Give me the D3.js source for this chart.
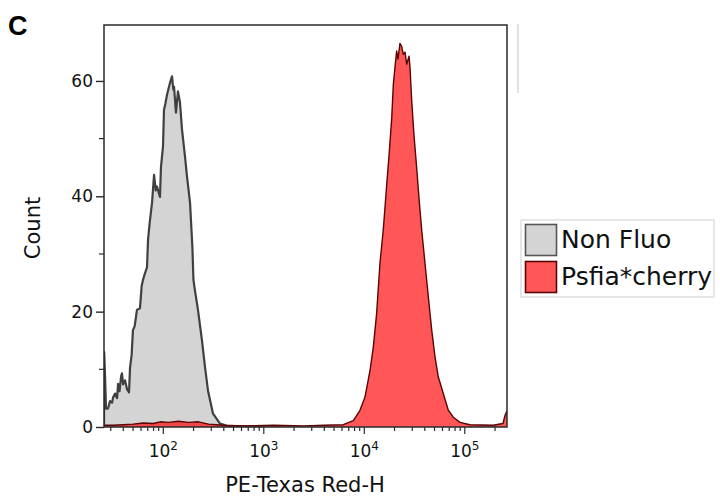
<!DOCTYPE html>
<html>
<head>
<meta charset="utf-8">
<script src="https://cdn.jsdelivr.net/npm/d3@7"></script>
<style>
  body { margin: 0; background: #fff; }
  svg { display: block; font-family: "DejaVu Sans", sans-serif; }
</style>
</head>
<body>
<svg id="chart" width="720" height="498"></svg>
<script>
// histogram outlines: log10(intensity) and event count
var nonFluoLog = [1.410, 1.412, 1.420, 1.430, 1.450, 1.470, 1.490, 1.500, 1.520, 1.540, 1.550, 1.565, 1.580, 1.589, 1.600, 1.619,
    1.640, 1.659, 1.669, 1.685, 1.698, 1.715, 1.738, 1.768, 1.785, 1.798, 1.815, 1.838, 1.848, 1.865, 1.888, 1.908,
    1.925, 1.937, 1.967, 1.977, 1.997, 2.007, 2.020, 2.037, 2.067, 2.087, 2.100, 2.107, 2.126, 2.146, 2.166, 2.186,
    2.216, 2.236, 2.266, 2.290, 2.300, 2.315, 2.345, 2.385, 2.415, 2.445, 2.495, 2.564, 2.634, 2.800, 3.000];
var nonFluoCount = [0, 13, 9, 3.2, 3.2, 4.5, 4.2, 5.1, 5.8, 5.0, 7.5, 6.2, 8.8, 9.3, 7.4, 8.1,
    6.5, 6.0, 10.3, 12.5, 16.8, 17.5, 20.3, 20.6, 24.5, 25.5, 26.5, 27.7, 32.4, 35.5, 38.9, 43.7,
    41.0, 41.7, 39.9, 45.1, 48.6, 55.0, 56.0, 57.6, 59.7, 60.8, 58.5, 59.0, 54.5, 58.2, 56.3, 51.6,
    46.9, 43.4, 38.9, 31.0, 25.5, 23.7, 20.3, 15.0, 10.4, 6.3, 2.3, 0.6, 0.2, 0.1, 0];

var cherryLog = [1.410, 1.500, 1.600, 1.700, 1.800, 1.900, 1.970, 2.050, 2.150, 2.250, 2.350, 2.450, 2.600, 2.800, 3.100, 3.400,
    3.600, 3.791, 3.891, 3.957, 4.007, 4.057, 4.090, 4.123, 4.156, 4.189, 4.223, 4.249, 4.273, 4.289, 4.305, 4.322,
    4.335, 4.355, 4.372, 4.388, 4.405, 4.422, 4.445, 4.455, 4.472, 4.494, 4.521, 4.547, 4.571, 4.604, 4.637, 4.671,
    4.704, 4.736, 4.786, 4.836, 4.886, 4.952, 5.052, 5.281, 5.380, 5.400, 5.420];
var cherryCount = [0.3, 0.3, 0.4, 0.5, 0.7, 0.6, 0.9, 0.8, 1.0, 0.8, 0.9, 0.5, 0.3, 0.2, 0.3, 0.2,
    0.3, 0.4, 1.1, 2.9, 5.2, 9.8, 13.9, 19.7, 28.4, 34.2, 42.0, 47.7, 53.6, 59.4, 62.3, 65.2,
    63.8, 66.5, 66.0, 64.6, 65.0, 62.9, 64.3, 62.3, 56.5, 50.7, 45.0, 39.1, 34.2, 28.4, 22.6, 16.8,
    12.1, 8.7, 5.8, 2.9, 1.7, 0.8, 0.4, 0.3, 0.6, 2.0, 2.8];

var seriesNames = ["Non Fluo", "Psfia*cherry"];
var yMajorTicks = [0, 20, 40, 60];
var yMinorTicks = [10, 30, 50];
var xMajorExp = [2, 3, 4, 5];
var xTitle = "PE-Texas Red-H";
var yTitle = "Count";
var panelLetter = "C";

var svg = d3.select("#chart");
var plotLeft = 104, plotRight = 507, plotTop = 25, plotBottom = 427;

var x = d3.scaleLog()
    .domain([Math.pow(10, 1.41), Math.pow(10, 5.42)])
    .range([plotLeft, plotRight]);
var y = d3.scaleLinear()
    .domain([0, 69.7])
    .range([plotBottom, plotTop]);

var toPoints = function(logs, counts) {
    return logs.map(function(l, i) { return [Math.pow(10, l), counts[i]]; });
};

svg.append("clipPath").attr("id", "plotclip")
    .append("rect").attr("x", plotLeft).attr("y", plotTop)
    .attr("width", plotRight - plotLeft).attr("height", plotBottom - plotTop);

var area = d3.area()
    .x(function(d) { return x(d[0]); })
    .y0(y(0))
    .y1(function(d) { return y(d[1]); });
var line = d3.line()
    .x(function(d) { return x(d[0]); })
    .y(function(d) { return y(d[1]); });

var plot = svg.append("g").attr("clip-path", "url(#plotclip)");

var series = [
    { pts: toPoints(nonFluoLog, nonFluoCount), fill: "#d4d4d4", fillOpacity: 1, stroke: "#404040", width: 2.2 },
    { pts: toPoints(cherryLog, cherryCount), fill: "#ff0000", fillOpacity: 0.66, stroke: "#5a0404", width: 1.4 }
];

series.forEach(function(s) {
    plot.append("path").datum(s.pts)
        .attr("d", area)
        .attr("fill", s.fill)
        .attr("fill-opacity", s.fillOpacity);
    plot.append("path").datum(s.pts)
        .attr("d", line)
        .attr("fill", "none")
        .attr("stroke", s.stroke)
        .attr("stroke-width", s.width)
        .attr("stroke-linejoin", "round");
});

// frame
svg.append("rect")
    .attr("x", plotLeft).attr("y", plotTop)
    .attr("width", plotRight - plotLeft).attr("height", plotBottom - plotTop)
    .attr("fill", "none").attr("stroke", "#2a2a2a").attr("stroke-width", 1.5);

// faint line right of the frame
svg.append("line")
    .attr("x1", 518).attr("x2", 518).attr("y1", 24).attr("y2", 93)
    .attr("stroke", "#d6d6d6").attr("stroke-width", 1.5);

// x axis: minor ticks from the log scale, decades longer
var isDecade = function(d) {
    var l = Math.log10(d);
    return Math.abs(l - Math.round(l)) < 1e-9;
};
var xAxisG = svg.append("g").attr("transform", "translate(0," + plotBottom + ")");
xAxisG.selectAll("line.tick")
    .data(x.ticks())
    .enter().append("line")
        .attr("x1", function(d) { return x(d); })
        .attr("x2", function(d) { return x(d); })
        .attr("y1", 0)
        .attr("y2", function(d) { return isDecade(d) ? 7 : 4; })
        .attr("stroke", "#2a2a2a").attr("stroke-width", 1.2);

var xLabels = xAxisG.selectAll("text.xl")
    .data(xMajorExp)
    .enter().append("text")
        .attr("x", function(d) { return x(Math.pow(10, d)); })
        .attr("y", 30)
        .attr("text-anchor", "middle")
        .attr("font-size", 17)
        .attr("fill", "#111");
xLabels.append("tspan").text("10");
xLabels.append("tspan")
    .attr("dy", -7).attr("font-size", 12)
    .text(function(d) { return d; });

// y axis
var yAxisG = svg.append("g").attr("transform", "translate(" + plotLeft + ",0)");
yAxisG.call(d3.axisLeft(y).tickValues(yMajorTicks).tickSize(8).tickPadding(3))
    .call(function(g) { g.select(".domain").remove(); })
    .call(function(g) {
        g.selectAll(".tick line").attr("stroke", "#2a2a2a").attr("stroke-width", 1.4);
        g.selectAll(".tick text").attr("font-size", 17).attr("fill", "#111")
            .attr("font-family", "DejaVu Sans, sans-serif");
    });
yAxisG.selectAll("line.minor")
    .data(yMinorTicks)
    .enter().append("line")
        .attr("x1", -5).attr("x2", 0)
        .attr("y1", function(d) { return y(d); })
        .attr("y2", function(d) { return y(d); })
        .attr("stroke", "#2a2a2a").attr("stroke-width", 1.2);

// titles
svg.append("text")
    .attr("x", 305).attr("y", 492)
    .attr("text-anchor", "middle")
    .attr("font-size", 21)
    .attr("fill", "#111")
    .text(xTitle);

svg.append("text")
    .attr("transform", "translate(40,228) rotate(-90)")
    .attr("text-anchor", "middle")
    .attr("font-size", 21)
    .attr("fill", "#111")
    .text(yTitle);

svg.append("text")
    .attr("x", 8).attr("y", 35)
    .attr("font-family", "Liberation Sans, Arial, sans-serif")
    .attr("font-weight", "bold")
    .attr("font-size", 27)
    .attr("fill", "#000")
    .text(panelLetter);

// legend
var legend = svg.append("g");
legend.append("rect")
    .attr("x", 521).attr("y", 220).attr("width", 193).attr("height", 77)
    .attr("fill", "#fff").attr("stroke", "#d8d8d8").attr("stroke-width", 1.2);
var items = legend.selectAll("g.item")
    .data(seriesNames)
    .enter().append("g")
        .attr("transform", function(d, i) { return "translate(0," + (i * 37) + ")"; });
items.append("rect")
    .attr("x", 525.5).attr("y", 224.5).attr("width", 31).attr("height", 31)
    .attr("fill", function(d, i) { return i === 0 ? "#d4d4d4" : "#ff5757"; })
    .attr("stroke", function(d, i) { return i === 0 ? "#555" : "#5a0404"; })
    .attr("stroke-width", 1.6);
items.append("text")
    .attr("x", 561).attr("y", 248)
    .attr("font-size", 25)
    .attr("fill", "#111")
    .text(function(d) { return d; });
</script>
</body>
</html>
